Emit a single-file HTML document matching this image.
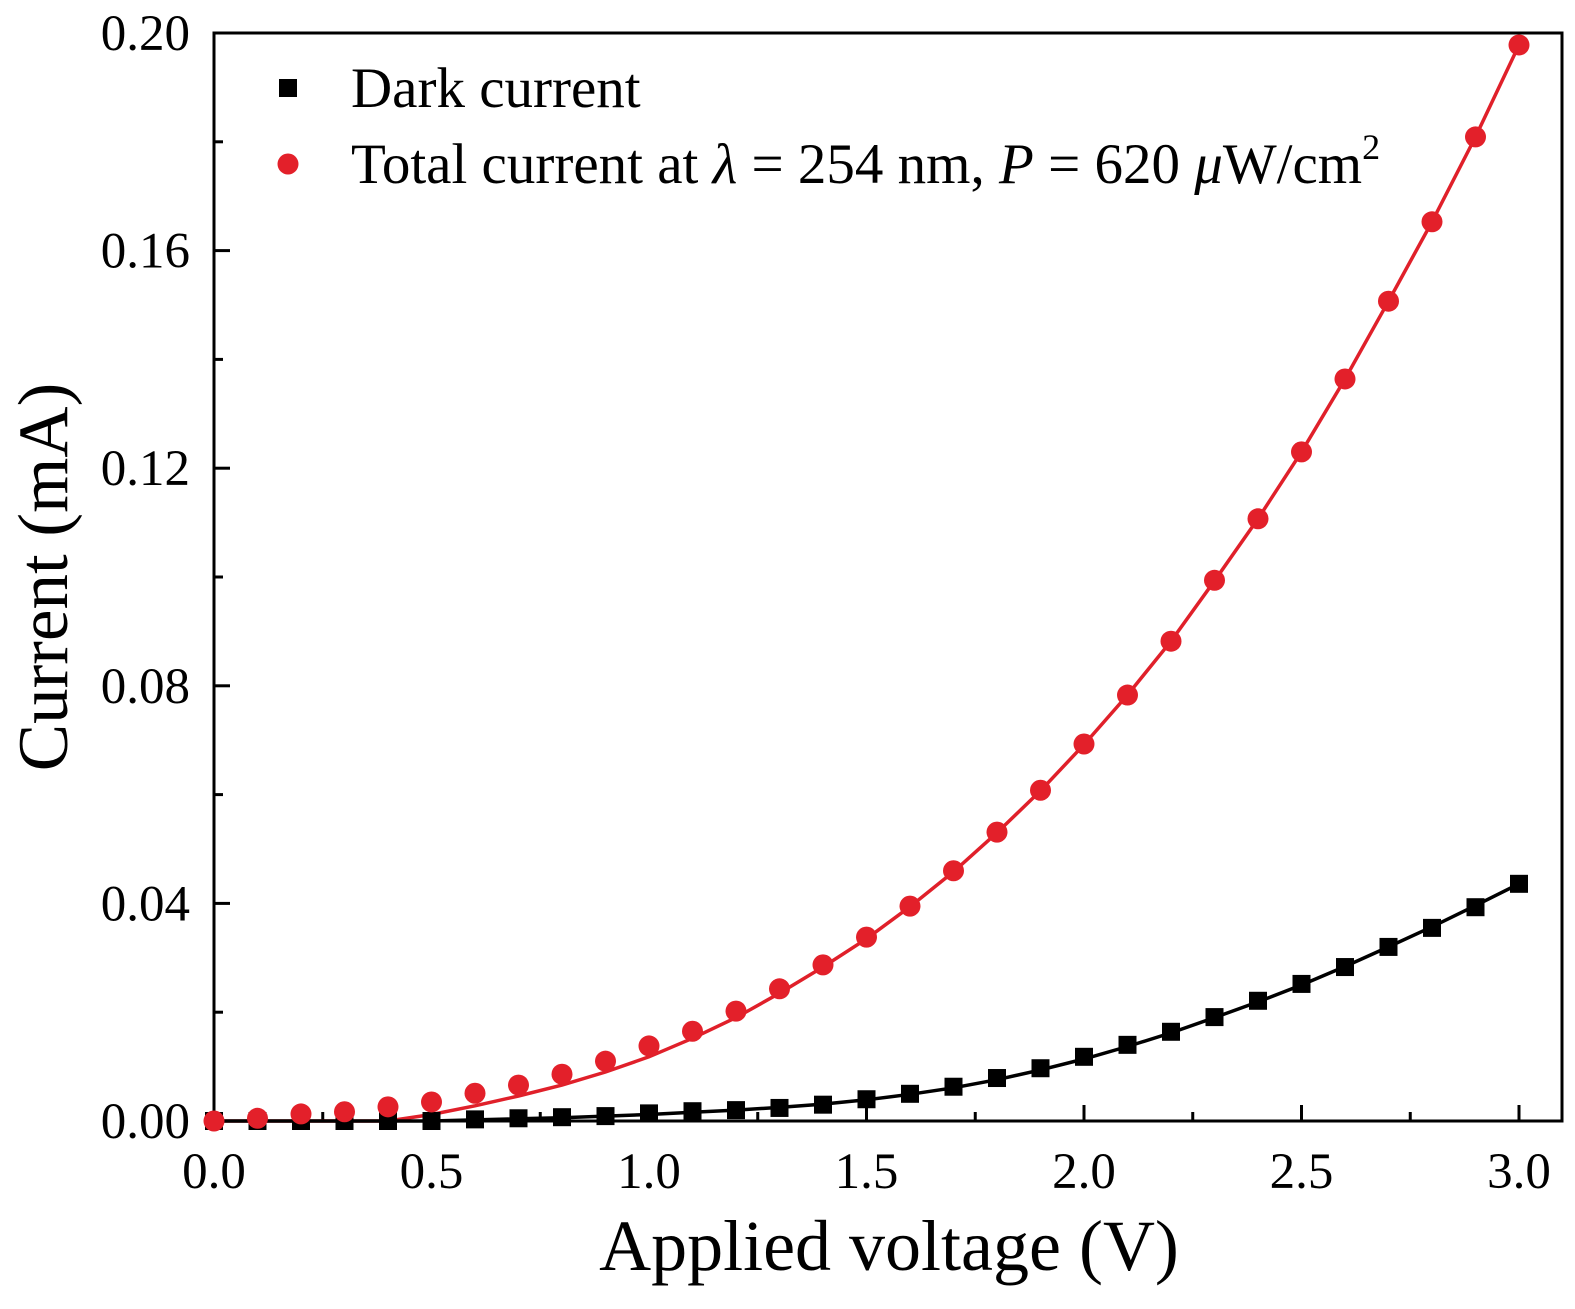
<!DOCTYPE html>
<html><head><meta charset="utf-8"><style>
html,body{margin:0;padding:0;background:#fff;}
svg{display:block;font-family:"Liberation Serif",serif;}
</style></head><body>
<svg id="chart" width="1575" height="1309" viewBox="0 0 1575 1309" xmlns="http://www.w3.org/2000/svg"></svg>
<script>
const voltages=[0,0.1,0.2,0.3,0.4,0.5,0.6,0.7,0.8,0.9,1.0,1.1,1.2,1.3,1.4,1.5,1.6,1.7,1.8,1.9,2.0,2.1,2.2,2.3,2.4,2.5,2.6,2.7,2.8,2.9,3.0];
const darkCurrent=[0,0,0,0,0,0,0.0003,0.0005,0.0007,0.0009,0.0014,0.0018,0.002,0.0024,0.003,0.004,0.005,0.0063,0.0079,0.0097,0.0118,0.014,0.0164,0.0191,0.0221,0.0252,0.0283,0.032,0.0355,0.0393,0.0436];
const totalCurrent=[0,0.0005,0.0013,0.0017,0.0026,0.0035,0.0051,0.0066,0.0086,0.011,0.0138,0.0165,0.0202,0.0243,0.0287,0.0338,0.0395,0.046,0.0531,0.0608,0.0693,0.0783,0.0882,0.0994,0.1107,0.123,0.1364,0.1507,0.1653,0.1809,0.1978];
const totalFit=[0,0,0,0,0,0.0012,0.0028,0.0046,0.0066,0.009,0.0118,0.0152,0.019,0.0235,0.0283,0.0335,0.0394,0.0458,0.053,0.0607,0.0692,0.0783,0.0882,0.0993,0.1107,0.123,0.1364,0.1507,0.1653,0.1809,0.1978];
const darkFit=[0,0,0,0,0,0,0.0002,0.0004,0.0006,0.0009,0.0012,0.0016,0.002,0.0025,0.0031,0.0039,0.0049,0.0061,0.0076,0.0094,0.0114,0.0137,0.0162,0.019,0.0219,0.025,0.0284,0.032,0.0357,0.0396,0.0436];
const xTicks=[0,0.5,1.0,1.5,2.0,2.5,3.0];
const xTickLabels=["0.0","0.5","1.0","1.5","2.0","2.5","3.0"];
const yTicks=[0,0.04,0.08,0.12,0.16,0.20];
const yTickLabels=["0.00","0.04","0.08","0.12","0.16","0.20"];

const L=214,R=1562,T=33,B=1121;
const xs=v=>L+v*(1519-214)/3;
const ys=v=>B-v*(B-T)/0.2;
const NS="http://www.w3.org/2000/svg";
const svg=document.getElementById('chart');
function mk(t,a,p){const e=document.createElementNS(NS,t);for(const k in a)e.setAttribute(k,a[k]);(p||svg).appendChild(e);return e;}

const frame=mk('rect',{x:L,y:T,width:R-L,height:B-T,fill:'none',stroke:'#000','stroke-width':3});



xTicks.forEach((v,i)=>{
  const t=mk('line',{x1:xs(v),x2:xs(v),y1:B,y2:B-16,stroke:'#000','stroke-width':3});
  
  
  if(i<xTicks.length-1){const m=mk('line',{x1:xs(v+0.25),x2:xs(v+0.25),y1:B,y2:B-9,stroke:'#000','stroke-width':3});
  
  }
  const lb=mk('text',{x:xs(v),y:1188,'text-anchor':'middle','font-size':51});
  lb.textContent=xTickLabels[i];
  
  
});
yTicks.forEach((v,i)=>{
  const t=mk('line',{x1:L,x2:L+16,y1:ys(v),y2:ys(v),stroke:'#000','stroke-width':3});
  
  
  if(i<yTicks.length-1){const m=mk('line',{x1:L,x2:L+9,y1:ys(v+0.02),y2:ys(v+0.02),stroke:'#000','stroke-width':3});
  
  }
  const lb=mk('text',{x:190,y:ys(v)+17,'text-anchor':'end','font-size':51});
  lb.textContent=yTickLabels[i];
  
  
});

const xt=mk('text',{x:889,y:1270,'text-anchor':'middle','font-size':72});
xt.textContent='Applied voltage (V)';


const yt=mk('text',{x:0,y:0,'text-anchor':'middle','font-size':71,transform:'translate(67,577) rotate(-90)'});
yt.textContent='Current (mA)';



function pathFrom(arr){return arr.map((v,i)=>(i?'L':'M')+xs(voltages[i]).toFixed(1)+' '+ys(v).toFixed(1)).join(' ');}
const rl=mk('path',{d:pathFrom(totalFit),fill:'none',stroke:'#e0202a','stroke-width':3.5});


const bl=mk('path',{d:pathFrom(darkFit),fill:'none',stroke:'#000','stroke-width':3.5});



darkCurrent.forEach((v,i)=>{
  const s=mk('rect',{x:xs(voltages[i])-9,y:ys(v)-9,width:18,height:18,fill:'#000'});
  
  
});
totalCurrent.forEach((v,i)=>{
  const c=mk('circle',{cx:xs(voltages[i]),cy:ys(v),r:10.5,fill:'#e3202a'});
  
  
});

const lg=mk('g',{});


const ls=mk('rect',{x:279,y:79,width:18,height:18,fill:'#000'},lg);


const lt1=mk('text',{x:351,y:107,'font-size':57},lg);
lt1.textContent='Dark current';


const lc=mk('circle',{cx:288,cy:164,r:10.5,fill:'#e3202a'},lg);


const lt2=mk('text',{x:351,y:183,'font-size':57},lg);
lt2.innerHTML='Total current at <tspan font-style="italic">λ</tspan> = 254 nm, <tspan font-style="italic">P</tspan> = 620 <tspan font-style="italic">μ</tspan>W/cm<tspan font-size="36" dy="-24">2</tspan>';


</script>
</body></html>
